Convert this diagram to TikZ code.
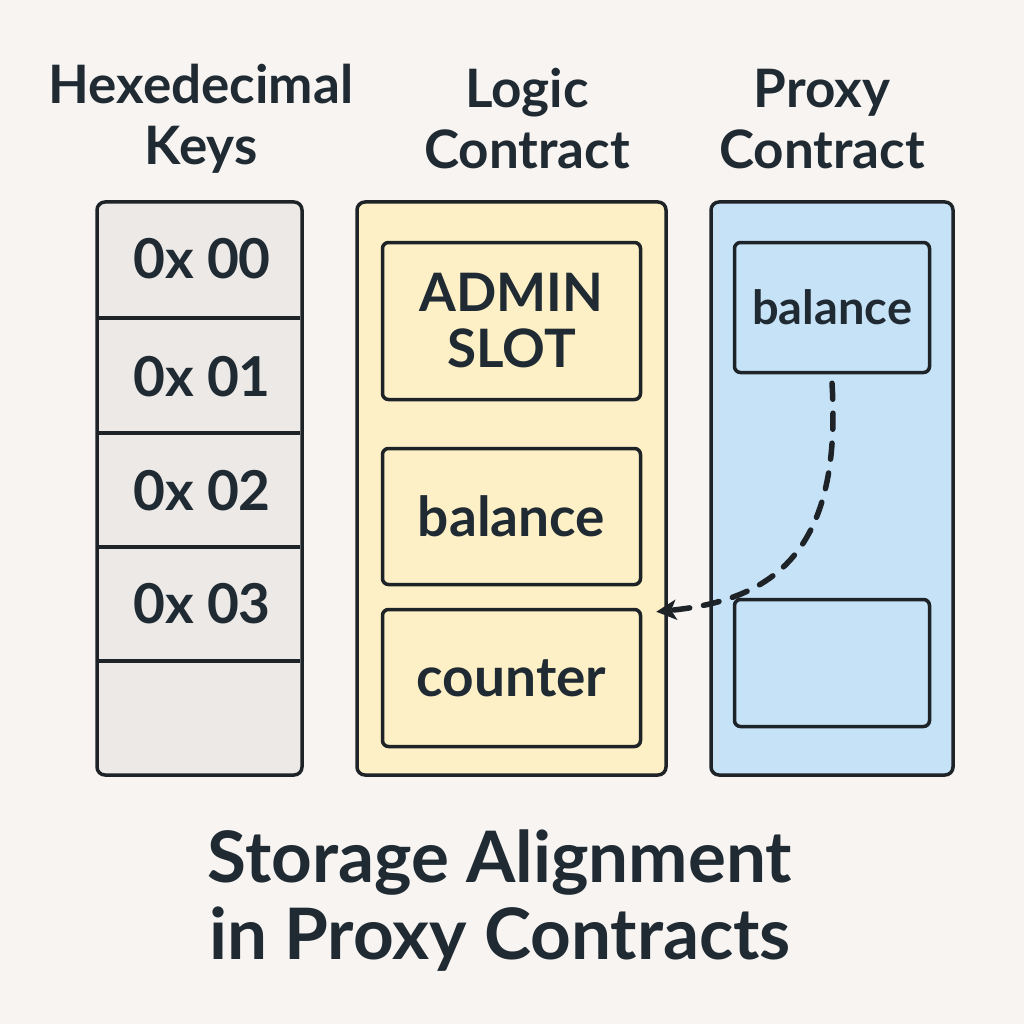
\documentclass[tikz,border=0pt]{standalone}
\usepackage{fontspec}
\setmainfont{Lato}
\usetikzlibrary{arrows.meta,calc}
\definecolor{paper}{HTML}{F7F4F1}
\definecolor{ink}{HTML}{1E2328}
\definecolor{txt}{HTML}{1F2A33}
\definecolor{keyfill}{HTML}{ECE9E6}
\definecolor{logicfill}{HTML}{FDF0C6}
\definecolor{proxyfill}{HTML}{C6E2F7}
\newcommand{\fsz}[2]{\fontsize{#1}{#2}\selectfont}

\begin{document}
\begin{tikzpicture}[x=1pt,y=-1pt,
  col/.style={draw=ink,line width=3.5pt,rounded corners=8pt},
  slot/.style={draw=ink,line width=3.5pt,rounded corners=6pt,inner sep=0pt},
  head/.style={text=txt,font=\bfseries\fsz{53}{61},align=center},
  lbl/.style={text=txt,font=\bfseries\fsz{53}{56},align=center}]

\useasboundingbox[fill=paper] (0,0) rectangle (1024,1024);

% column headers
\node[head] (hkeys) at (201,119) {Hexedecimal\\Keys};
\node[head] (hlogic) at (527,119) {Logic\\Contract};
\node[head] (hproxy) at (822,119) {Proxy\\Contract};

% hexadecimal keys
\draw[col,fill=keyfill] (97,202) rectangle (302,775);
\foreach \y in {318,433,547,661}
  \draw[ink,line width=3.5pt] (99,\y) -- (300,\y);
\foreach \k/\y in {0/259,1/377,2/491,3/604}
  \node[lbl,font=\bfseries\fsz{55}{60}] (k\k) at (202,\y) {0x 0\k};

% logic contract
\draw[col,fill=logicfill] (357,202) rectangle (666,775);
\node[slot,minimum width=258,minimum height=157] (adm) at (511.5,321) {};
\node[lbl] (admtxt) at (adm) {ADMIN\\SLOT};
\node[slot,minimum width=258,minimum height=136] (bal) at (511.5,516.5) {};
\node[lbl,font=\bfseries\fsz{55}{56}] (baltxt) at (bal) {balance};
\node[slot,minimum width=258,minimum height=137] (cnt) at (511.5,678) {};
\node[lbl,font=\bfseries\fsz{55}{56}] (cnttxt) at (cnt) {counter};

% proxy contract
\draw[col,fill=proxyfill] (711,202) rectangle (953,775);
\node[slot,minimum width=195,minimum height=130] (pbal) at (832,307.5) {};
\node[lbl,font=\bfseries\fsz{47}{50}] (pbaltxt) at (pbal) {balance};
\node[slot,minimum width=195,minimum height=127] (pfree) at (832,663) {};

\coordinate (tip) at ($(cnt.north east)+(14,4)$);
\draw[ink,line width=5.5pt,line cap=round,dash pattern=on 16pt off 14pt,
  -{Stealth[length=20pt,width=20pt,inset=5pt]}]
  ($(pbal.south)+(0,9)$) .. controls (842,550) and (775,600) .. (tip);

% title
\node[text=txt,font=\bfseries\fsz{71}{77},align=center] (ttl) at (500,901)
  {Storage Alignment\\in Proxy Contracts};

\end{tikzpicture}
\end{document}
